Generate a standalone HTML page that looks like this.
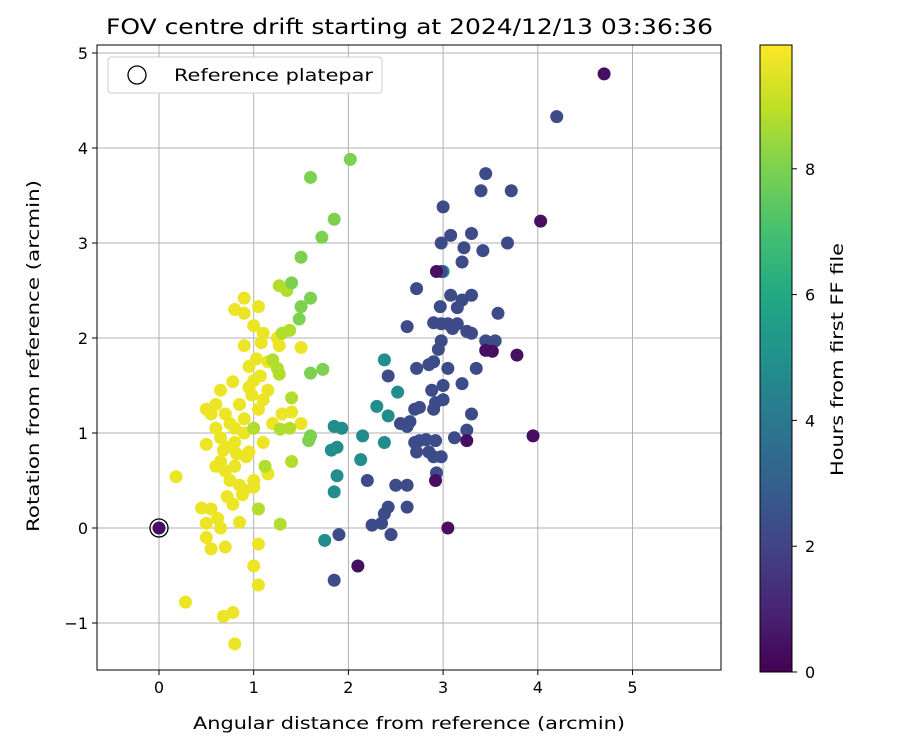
<!DOCTYPE html>
<html><head><meta charset="utf-8"><style>
body{margin:0;background:#fff;font-family:"Liberation Sans","DejaVu Sans",sans-serif}
svg text{font-family:"DejaVu Sans","Liberation Sans",sans-serif;fill:#000}
</style></head><body>
<svg id="chart" width="900" height="750" xmlns="http://www.w3.org/2000/svg">
<defs><linearGradient id="vir" x1="0" y1="1" x2="0" y2="0">
<stop offset="0" stop-color="#440154"/><stop offset="0.1" stop-color="#482475"/><stop offset="0.2" stop-color="#414487"/><stop offset="0.3" stop-color="#355f8d"/><stop offset="0.4" stop-color="#2a788e"/><stop offset="0.5" stop-color="#21918c"/><stop offset="0.6" stop-color="#22a884"/><stop offset="0.7" stop-color="#44bf70"/><stop offset="0.8" stop-color="#7ad151"/><stop offset="0.9" stop-color="#bddf26"/><stop offset="1" stop-color="#fde725"/></linearGradient></defs>
<text x="106" y="34" font-size="21" textLength="607" lengthAdjust="spacingAndGlyphs">FOV centre drift starting at 2024/12/13 03:36:36</text>
<g id="grid"></g><g id="pts"></g>
<rect x="97" y="45" width="624" height="625" fill="none" stroke="#000" stroke-width="1"/>
<g id="axes"></g>
<text x="193" y="729" font-size="17" textLength="432" lengthAdjust="spacingAndGlyphs">Angular distance from reference (arcmin)</text>
<text transform="translate(39,532) rotate(-90)" font-size="17" textLength="352" lengthAdjust="spacingAndGlyphs">Rotation from reference (arcmin)</text>
<g>
<rect x="108" y="57" width="274" height="36" rx="3" fill="#fff" stroke="#ccc"/>
<circle cx="137" cy="75" r="9" fill="none" stroke="#000" stroke-width="1.3"/>
<text x="174" y="81" font-size="17" textLength="199" lengthAdjust="spacingAndGlyphs">Reference platepar</text></g>
<rect x="760" y="45" width="32" height="627" fill="url(#vir)" stroke="#000"/>
<g id="cbar"></g>
<text transform="translate(843,476) rotate(-90)" font-size="17" textLength="233" lengthAdjust="spacingAndGlyphs">Hours from first FF file</text>
</svg>
<script>
const xTicks=[0,1,2,3,4,5];
const yTicks=[-1,0,1,2,3,4,5];
const cTicks=[0,2,4,6,8];
const purpleX=[4.7,4.03,3.95,3.78,3.52,3.45,3.25,2.93,2.92,3.05,2.1,0];
const purpleY=[4.78,3.23,0.97,1.82,1.86,1.87,0.92,2.7,0.5,0,-0.4,0];
const blueX=[4.2,3.72,3.68,3.45,3.4,3.42,3.3,3.22,3.0,3.08,2.98,3.2,2.98,3.58,3.08,3.2,3.3,3.25,3.3,3.45,3.55,3.35,3.2,3.0,3.0,3.05,2.95,2.9,2.85,2.72,2.62,2.72,2.97,3.15,3.15,3.05,2.98,2.9,3.1,2.98,2.88,2.92,2.9,2.75,2.7,2.62,2.55,2.65,2.7,2.75,2.82,2.92,2.85,2.9,2.72,2.98,3.3,3.25,3.12,2.93,2.5,2.62,2.42,2.62,2.42,2.38,2.35,2.25,2.45,2.2,1.9,1.85];
const blueY=[4.33,3.55,3,3.73,3.55,2.92,3.1,2.95,3.38,3.08,3.0,2.8,2.7,2.26,2.45,2.4,2.45,2.07,2.05,1.97,1.97,1.68,1.52,1.5,1.35,1.68,1.88,1.75,1.72,1.68,2.12,2.52,2.33,2.32,2.15,2.15,2.15,2.16,2.1,1.97,1.45,1.32,1.25,1.27,1.25,1.07,1.1,1.12,0.9,0.92,0.93,0.92,0.8,0.75,0.8,0.75,1.2,1.03,0.95,0.58,0.45,0.45,1.6,0.22,0.22,0.15,0.05,0.03,-0.07,0.5,-0.07,-0.55];
const blueH=2.3;
const tealX=[2.38,2.52,2.3,2.42,2.38,2.15,2.13,1.88,1.93,1.85,1.82,1.88,1.85,1.75,3.0];
const tealY=[1.77,1.43,1.28,1.18,0.9,0.97,0.72,0.85,1.05,1.07,0.82,0.55,0.38,-0.13,2.7];
const greenX=[1.6,1.73,1.72,1.85,2.02,1.6,1.6,1.6,1.58,1.5,1.5,1.48,1.4];
const greenY=[0.97,1.67,3.06,3.25,3.88,3.69,2.42,1.63,0.92,2.85,2.33,2.2,2.58];
const ygX=[1.35,1.27,1.38,1.3,1.4,1.38,1.4,1.28,1.27,1.25,1.2,1.12,1.28,1.0,1.05];
const ygY=[2.5,2.55,2.08,2.05,1.37,1.05,0.7,1.04,1.62,1.68,1.77,0.65,0.04,1.05,0.2];
const yelX=[0.9,0.8,0.9,1.05,1.0,1.1,1.25,1.27,1.5,1.15,1.03,0.95,0.9,0.78,0.65,0.6,0.5,0.55,0.7,0.75,0.85,0.95,1.0,1.05,1.1,1.15,1.2,1.3,1.5,1.4,0.6,0.65,0.5,0.72,0.8,0.9,0.95,1.1,0.6,0.65,0.7,0.75,0.8,0.85,0.9,1.0,1.0,1.15,0.78,0.88,0.55,0.45,0.5,0.62,0.65,0.7,0.55,0.5,0.85,1.05,1.0,1.05,0.68,0.78,0.8,0.28,0.18,0.72,0.92,0.82,0.68,1.07,1.08,0.98,0.9,0.8];
const yelY=[2.42,2.3,2.26,2.33,2.13,2.05,2.0,1.92,1.9,1.75,1.78,1.7,1.92,1.54,1.45,1.3,1.25,1.2,1.2,1.1,1.3,1.48,1.55,1.25,1.35,1.45,1.1,1.2,1.1,1.22,1.05,0.95,0.88,0.85,0.9,1.0,0.8,0.9,0.65,0.7,0.6,0.5,0.65,0.45,0.4,0.5,0.43,0.57,0.25,0.35,0.2,0.21,0.05,0.1,0.0,-0.2,-0.22,-0.1,0.06,-0.17,-0.4,-0.6,-0.93,-0.89,-1.22,-0.78,0.54,0.33,0.75,0.78,0.82,1.6,1.95,1.4,1.15,1.05];
const NS="http://www.w3.org/2000/svg";
const X=v=>159+v*94.7, Y=v=>528-v*95, C=h=>672-h*62.9;
const stops=["#440154","#482475","#414487","#355f8d","#2a788e","#21918c","#22a884","#44bf70","#7ad151","#bddf26","#fde725"];
function vir(h){let t=Math.max(0,Math.min(1,h/9.97))*10,i=Math.min(9,Math.floor(t)),f=t-i;
const a=stops[i],b=stops[i+1],p=(s,k)=>parseInt(s.substr(k,2),16);
const m=k=>Math.round(p(a,k)+(p(b,k)-p(a,k))*f);return`rgb(${m(1)},${m(3)},${m(5)})`;}
function el(t,a,parent){const e=document.createElementNS(NS,t);for(const k in a)e.setAttribute(k,a[k]);parent.appendChild(e);return e;}
const grid=document.getElementById('grid'),axes=document.getElementById('axes'),pts=document.getElementById('pts'),cb=document.getElementById('cbar');
xTicks.forEach(v=>{const g=el('line',{x1:X(v),x2:X(v),y1:45,y2:670,stroke:'#b0b0b0','stroke-width':1},grid);

el('line',{x1:X(v),x2:X(v),y1:670,y2:675,stroke:'#000'},axes);
const t=el('text',{x:X(v),y:693,'font-size':16,'text-anchor':'middle'},axes);t.textContent=v;
});
yTicks.forEach(v=>{const g=el('line',{x1:97,x2:721,y1:Y(v),y2:Y(v),stroke:'#b0b0b0','stroke-width':1},grid);

el('line',{x1:92,x2:97,y1:Y(v),y2:Y(v),stroke:'#000'},axes);
const t=el('text',{x:88,y:Y(v)+6,'font-size':16,'text-anchor':'end'},axes);t.textContent=v<0?'\u2212'+(-v):v;
});
cTicks.forEach(v=>{el('line',{x1:792,x2:797,y1:C(v),y2:C(v),stroke:'#000'},cb);
const t=el('text',{x:805,y:C(v)+6,'font-size':16},cb);t.textContent=v;
});
function series(xs,ys,h,name){xs.forEach((x,i)=>{const hh=Array.isArray(h)?h[i]:h;
const c=el('circle',{cx:X(x),cy:Y(ys[i]),r:6.5,fill:vir(hh)},pts);
});}
series(yelX,yelY,9.7,'point-late');
series(ygX,ygY,8.8,'point-yellowgreen');
series(greenX,greenY,8.0,'point-green');
series(tealX,tealY,4.8,'point-teal');
series(blueX,blueY,blueH,'point-blue');
series(purpleX,purpleY,0.4,'point-early');
const ref=el('circle',{cx:X(0),cy:Y(0),r:9,fill:'none',stroke:'#000','stroke-width':1.3},pts);

</script>
</body></html>
